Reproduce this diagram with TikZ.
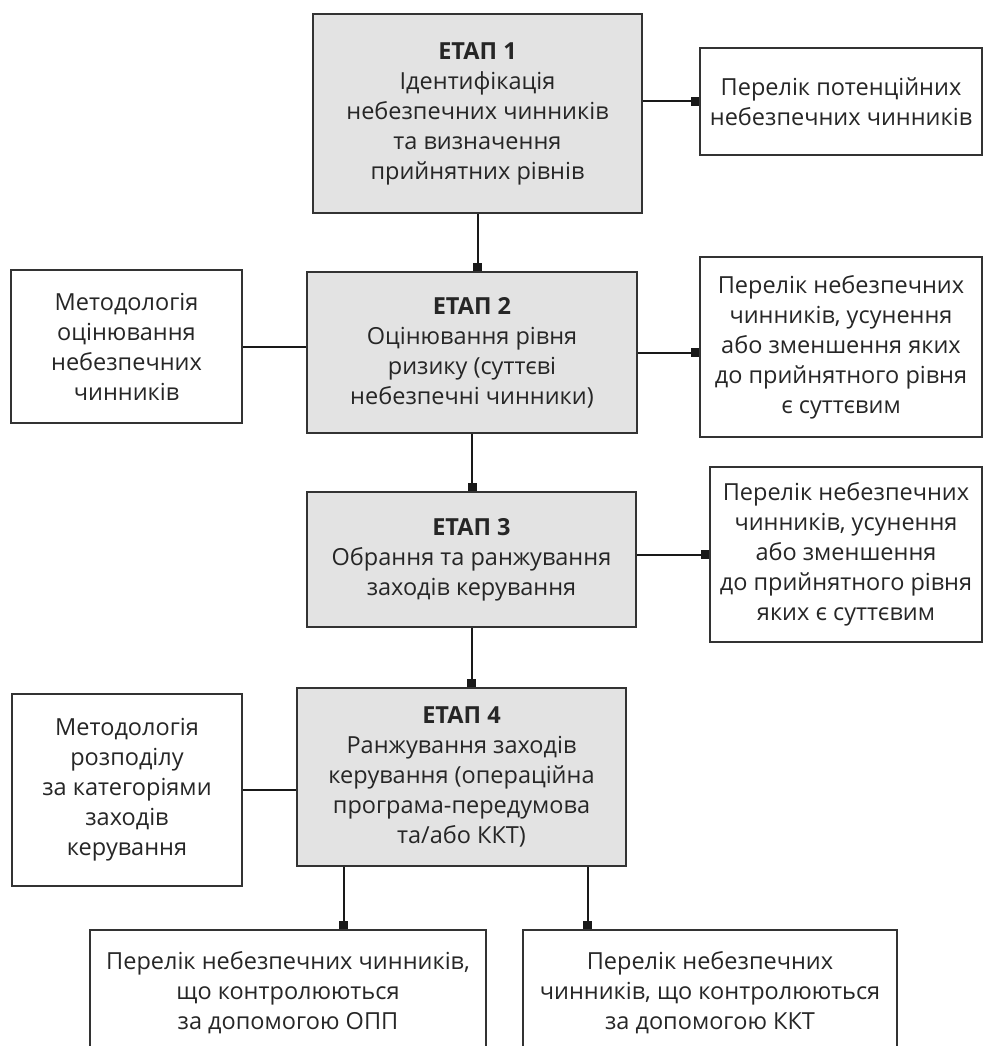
\documentclass[tikz,border=0pt]{standalone}
\usepackage{fontspec}
\setmainfont{Open Sans}
\usepackage{xcolor}
\usetikzlibrary{arrows.meta,positioning}

\begin{document}
\begin{tikzpicture}[
      x=1pt, y=-1pt,
      stagebox/.style={
         rectangle,
         draw=black!80,
         fill=black!11,
         line width=2.2pt,
         text=black!85,
         align=center,
         inner sep=1pt,
         font=\fontsize{23.5}{30}\selectfont},
      listbox/.style={
         rectangle,
         draw=black!80,
         % fill=white,
         line width=2.2pt,
         text=black!85,
         align=center,
         inner sep=1pt,
         font=\fontsize{23.5}{30}\selectfont},
      myline/.style={line width=2pt, draw=black!90},
      myarrow/.style={myline, -{Square[length=8pt,width=9pt]}}
      ]
\useasboundingbox (0,0) rectangle (984,1046);
\clip (0,0) rectangle (984,1046);

\node[stagebox, minimum width=329pt, minimum height=199pt] (e1) at (477.5,113.5)
   {\textbf{ЕТАП 1}\\Ідентифікація\\небезпечних чинників\\та визначення\\прийнятних рівнів};
\node[stagebox, minimum width=330pt, minimum height=161pt] (e2) at (472,352.5)
   {\textbf{ЕТАП 2}\\Оцінювання рівня\\ризику (суттєві\\небезпечні чинники)};
\node[stagebox, minimum width=329pt, minimum height=135pt] (e3) at (471.5,559.5)
   {\textbf{ЕТАП 3}\\Обрання та ранжування\\заходів керування};
\node[stagebox, minimum width=329pt, minimum height=178pt] (e4) at (461.5,777)
   {\textbf{ЕТАП 4}\\Ранжування заходів\\керування (операційна\\програма-передумова\\та/або ККТ)};

\node[listbox, minimum width=282pt, minimum height=107pt] (p1) at (841,101.5)
   {Перелік потенційних\\небезпечних чинників};
\node[listbox, minimum width=231pt, minimum height=153pt] (m2) at (126.5,346.5)
   {Методологія\\оцінювання\\небезпечних\\чинників};
\node[listbox, minimum width=282pt, minimum height=180pt] (r2) at (841,347)
   {Перелік небезпечних\\чинників, усунення\\або зменшення яких\\до прийнятного рівня\\є суттєвим};
\node[listbox, minimum width=272pt, minimum height=175pt] (r3) at (846,554.5)
   {Перелік небезпечних\\чинників, усунення\\або зменшення\\до прийнятного рівня\\яких є суттєвим};
\node[listbox, minimum width=230pt, minimum height=192pt] (m4) at (127,790)
   {Методологія\\розподілу\\за категоріями\\заходів\\керування};
\node[listbox, minimum width=396pt, minimum height=126pt] (b1) at (288,993)
   {Перелік небезпечних чинників,\\що контролюються\\за допомогою ОПП};
\node[listbox, minimum width=374pt, minimum height=126pt] (b2) at (710,993)
   {Перелік небезпечних\\чинників, що контролюються\\за допомогою ККТ};

\foreach \i/\j in {e1/e2, e2/e3, e3/e4}
   \draw[myarrow] (\i.south) -- (\i.south |- \j.north);

\draw[myarrow] (e1.east |- p1.west) -- (p1.west);
\draw[myarrow] (e2.east) -- (e2.east -| r2.west);
\draw[myarrow] (e3.east |- r3.west) -- (r3.west);
\draw[myline] (m2.east) -- (m2.east -| e2.west);
\draw[myline] (m4.east) -- (m4.east -| e4.west);

\draw[myarrow] ([xshift=-118pt]e4.south) -- ([xshift=-118pt]e4.south |- b1.north);
\draw[myarrow] ([xshift=126pt]e4.south) -- ([xshift=126pt]e4.south |- b2.north);

\end{tikzpicture}
\end{document}
